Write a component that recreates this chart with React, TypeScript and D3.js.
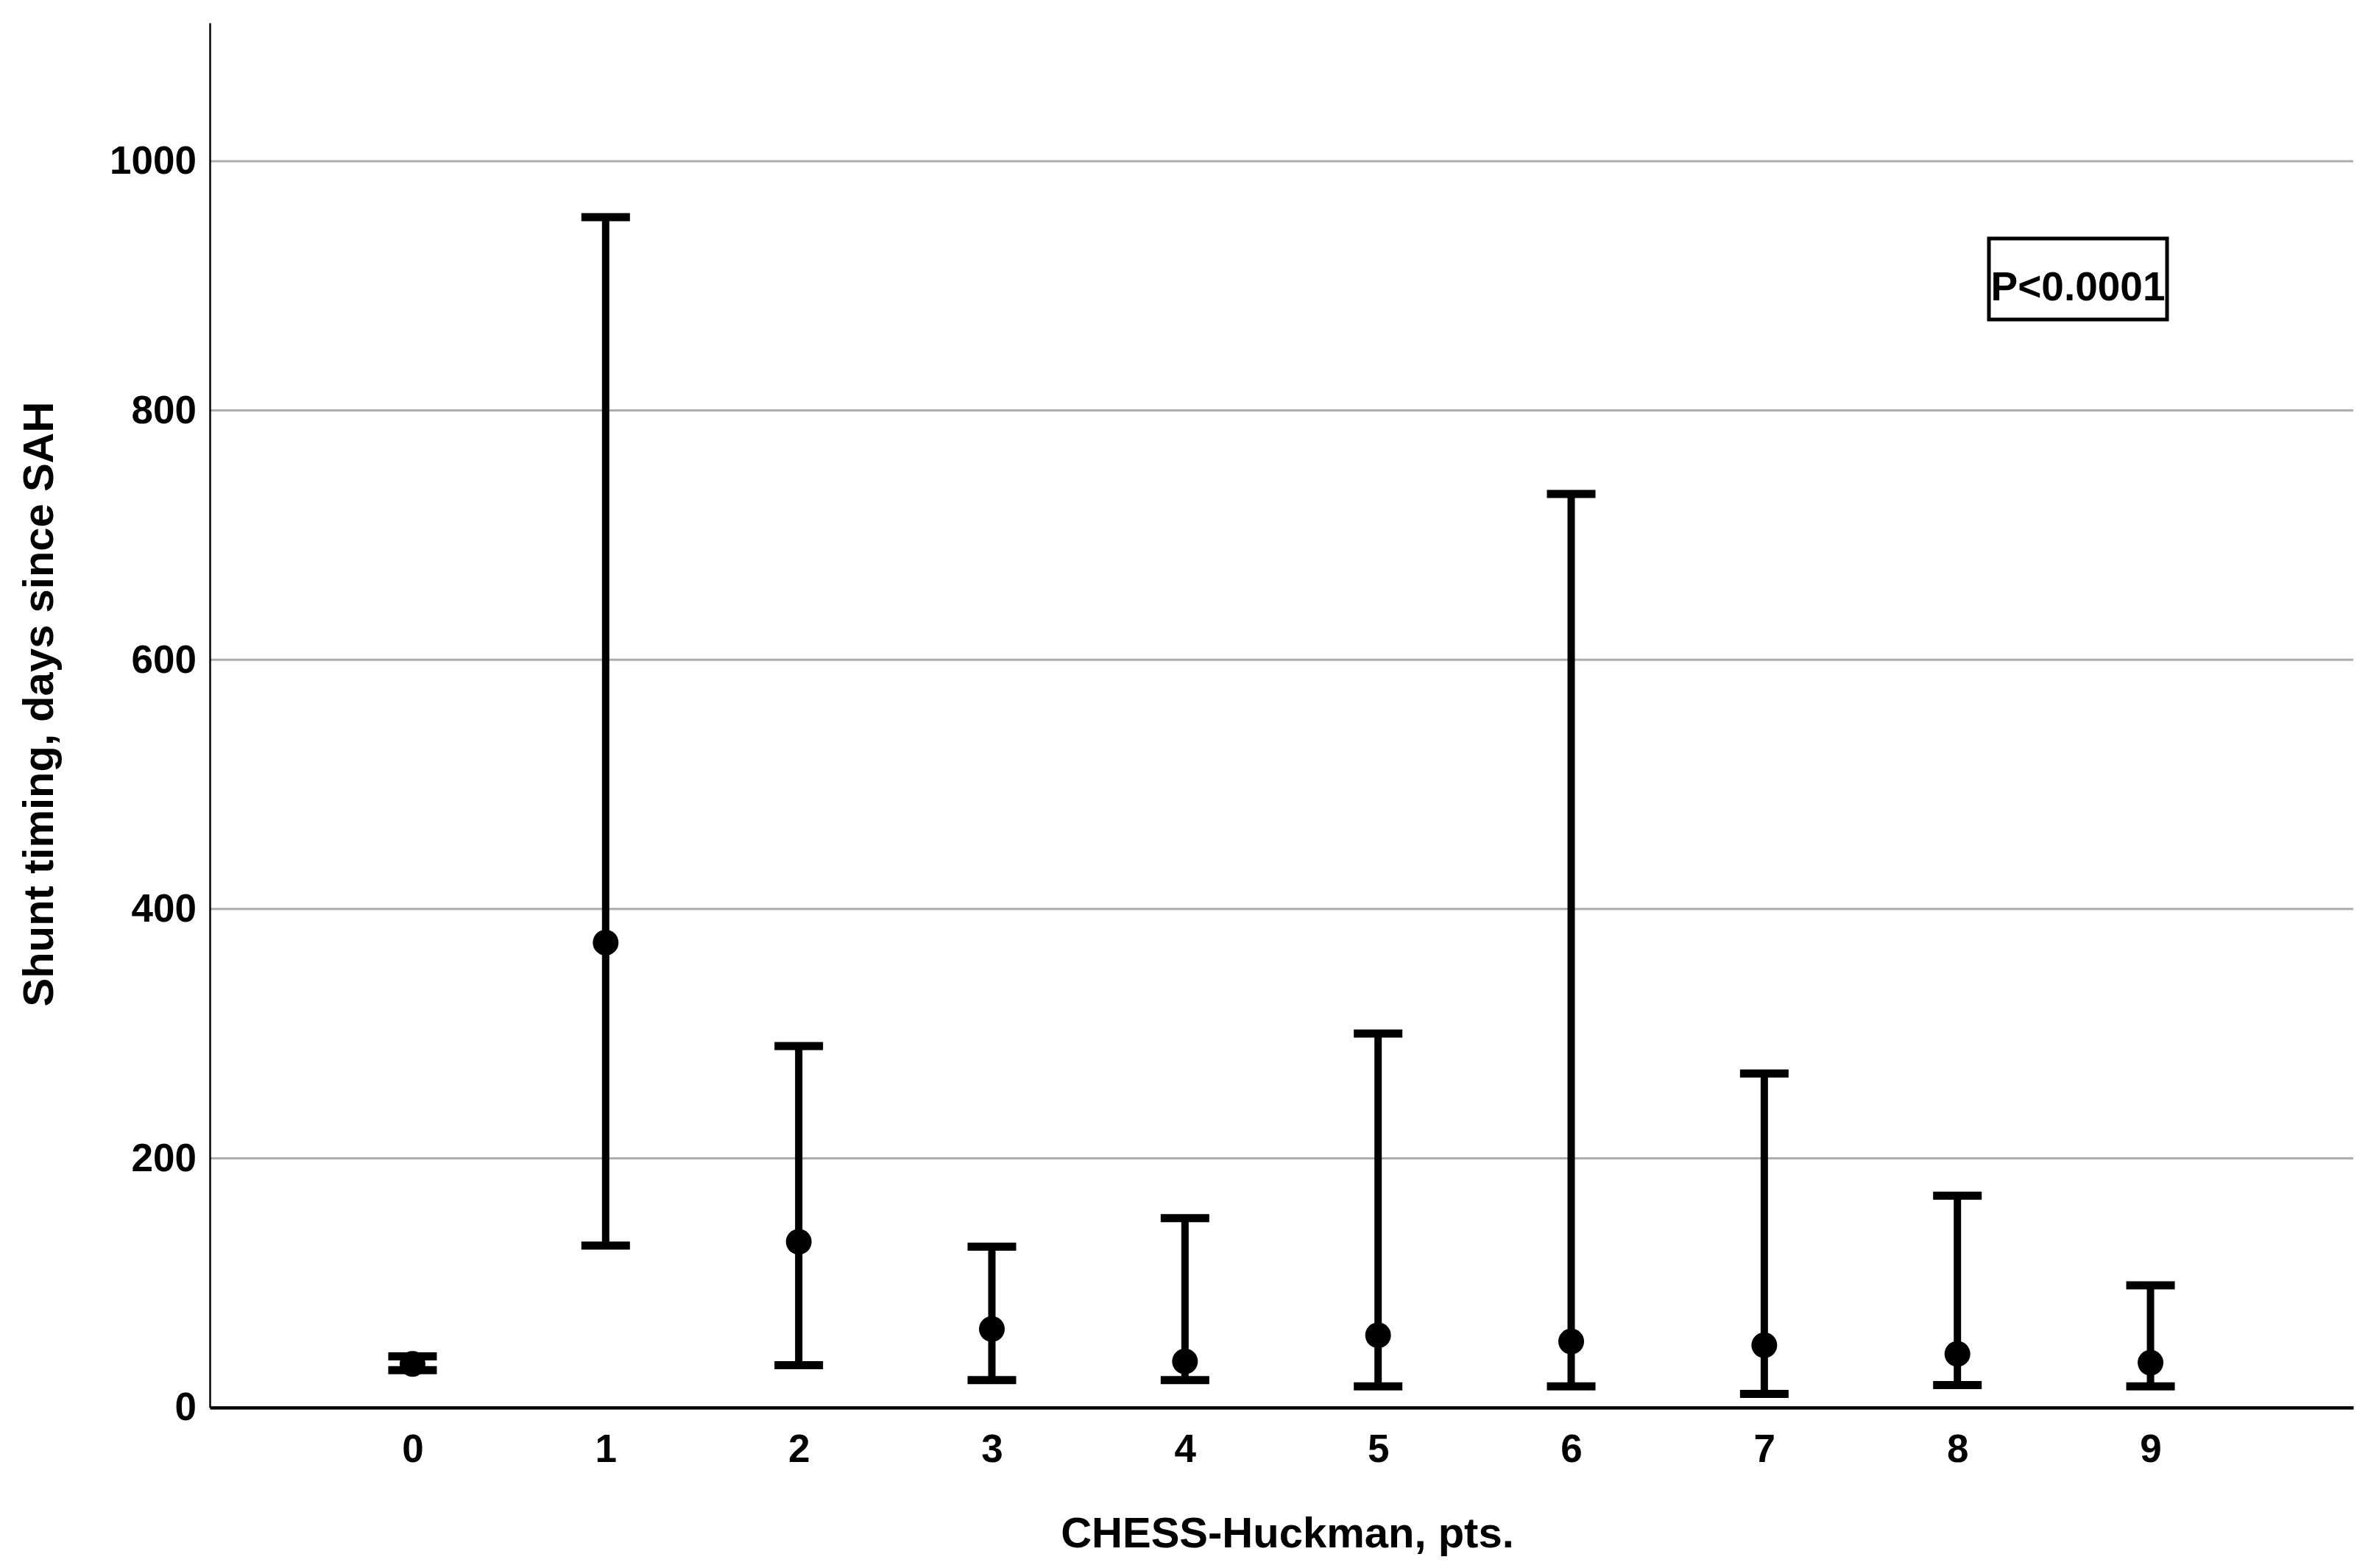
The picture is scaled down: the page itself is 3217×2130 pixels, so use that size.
import React, { useRef, useEffect } from 'react';
import * as d3 from 'd3';

// CHESS-Huckman score groups
const categories = [0, 1, 2, 3, 4, 5, 6, 7, 8, 9];
// shunt timing (days since SAH): centre point and interval ends
const centers = [35, 373, 133, 63, 37, 58, 53, 50, 43, 36];
const lowers = [30, 130, 34, 22, 22, 17, 17, 11, 18, 17];
const uppers = [41, 955, 290, 129, 152, 300, 733, 268, 170, 98];

const yTicks = [0, 200, 400, 600, 800, 1000];
const pLabel = 'P<0.0001';

function ErrorBarChart() {
  const ref = useRef<SVGSVGElement>(null);

  const width = 3217;
  const height = 2130;
  const margin = { top: 31, right: 20, bottom: 218, left: 285 };

  useEffect(() => {
    const svg = d3.select(ref.current);
    svg.selectAll('*').remove();

    const font = '"Liberation Sans", Arial, sans-serif';

    const x = d3.scaleLinear()
      .domain([-1.05, 9 + 1.05])
      .range([margin.left, width - margin.right]);

    const y = d3.scaleLinear()
      .domain([0, 1111])
      .range([height - margin.bottom, margin.top]);

    // horizontal grid lines
    svg.append('g')
      .selectAll('line')
      .data(yTicks.filter(d => d > 0))
      .join('line')
      .attr('x1', margin.left)
      .attr('x2', width - margin.right)
      .attr('y1', d => y(d))
      .attr('y2', d => y(d))
      .attr('stroke', '#adadad')
      .attr('stroke-width', 3);

    // y axis
    const yAxis = svg.append('g')
      .attr('transform', `translate(${margin.left},0)`)
      .call(d3.axisLeft(y).tickValues(yTicks).tickSize(0).tickPadding(18).tickFormat(d3.format('d')));
    yAxis.select('.domain').attr('stroke', '#000').attr('stroke-width', 2.5);
    yAxis.selectAll('text')
      .attr('font-family', font)
      .attr('font-weight', 'bold')
      .attr('font-size', 53)
      .attr('fill', '#000');

    // error bars
    const bars = svg.append('g')
      .selectAll('g')
      .data(categories.map((c, i) => ({ c, mid: centers[i], lo: lowers[i], hi: uppers[i] })))
      .join('g');

    const capHalf = 33;

    bars.append('line')
      .attr('x1', d => x(d.c))
      .attr('x2', d => x(d.c))
      .attr('y1', d => y(d.lo))
      .attr('y2', d => y(d.hi))
      .attr('stroke', '#000')
      .attr('stroke-width', 10);

    bars.append('line')
      .attr('x1', d => x(d.c) - capHalf)
      .attr('x2', d => x(d.c) + capHalf)
      .attr('y1', d => y(d.hi))
      .attr('y2', d => y(d.hi))
      .attr('stroke', '#000')
      .attr('stroke-width', 11);

    bars.append('line')
      .attr('x1', d => x(d.c) - capHalf)
      .attr('x2', d => x(d.c) + capHalf)
      .attr('y1', d => y(d.lo))
      .attr('y2', d => y(d.lo))
      .attr('stroke', '#000')
      .attr('stroke-width', 11);

    bars.append('circle')
      .attr('cx', d => x(d.c))
      .attr('cy', d => y(d.mid))
      .attr('r', 17.5)
      .attr('fill', '#000');

    // x axis
    const xAxis = svg.append('g')
      .attr('transform', `translate(0,${height - margin.bottom})`)
      .call(d3.axisBottom(x).tickValues(categories).tickSize(0).tickSizeOuter(0).tickPadding(36).tickFormat(d3.format('d')));
    xAxis.select('.domain').attr('stroke', '#000').attr('stroke-width', 4.5);
    xAxis.selectAll('text')
      .attr('font-family', font)
      .attr('font-weight', 'bold')
      .attr('font-size', 53)
      .attr('fill', '#000');

    // axis titles
    svg.append('text')
      .attr('x', 1749)
      .attr('y', 2102)
      .attr('text-anchor', 'middle')
      .attr('font-family', font)
      .attr('font-weight', 'bold')
      .attr('font-size', 58)
      .text('CHESS-Huckman, pts.');

    svg.append('text')
      .attr('transform', `translate(72,${(y(0) + y(1111)) / 2 - 15}) rotate(-90)`)
      .attr('text-anchor', 'middle')
      .attr('font-family', font)
      .attr('font-weight', 'bold')
      .attr('font-size', 58)
      .text('Shunt timing, days since SAH');

    // p-value box
    const boxX = 2702, boxY = 324, boxW = 242, boxH = 110;
    svg.append('rect')
      .attr('x', boxX)
      .attr('y', boxY)
      .attr('width', boxW)
      .attr('height', boxH)
      .attr('fill', '#fff')
      .attr('stroke', '#000')
      .attr('stroke-width', 5);
    svg.append('text')
      .attr('x', boxX + boxW / 2)
      .attr('y', 408)
      .attr('text-anchor', 'middle')
      .attr('font-family', font)
      .attr('font-weight', 'bold')
      .attr('font-size', 55)
      .text(pLabel);
  }, []);

  return (
    <svg
      ref={ref}
      width={width}
      height={height}
      style={{ position: 'absolute', left: 0, top: 0, display: 'block', background: '#fff' }}
    ></svg>
  );
}

export default function App() {
  return <ErrorBarChart />;
}
